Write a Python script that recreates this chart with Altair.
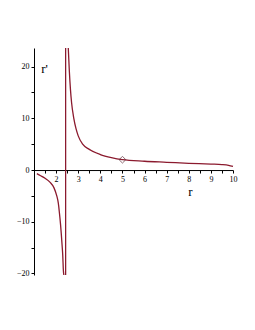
import altair as alt
import pandas as pd

# Left branch (r < asymptote)
left_r = [1.13, 1.3, 1.5, 1.73, 1.9, 2.03, 2.1, 2.15, 2.2, 2.23, 2.27, 2.3, 2.33, 2.35]
left_rp = [-0.7, -1.1, -1.6, -2.4, -3.4, -5.0, -6.4, -8.3, -10.5, -12.1, -14.5, -16.5, -19.5, -20.3]

# Right branch (r > asymptote)
right_r = [2.55, 2.6, 2.65, 2.7, 2.8, 2.9, 3.0, 3.2, 3.5, 4.0, 4.5, 5.0, 6.0, 7.0, 8.0, 9.0, 9.5, 9.8, 10.0]
right_rp = [23.6, 19.0, 15.5, 13.0, 10.0, 8.0, 6.6, 5.0, 4.0, 3.0, 2.4, 2.0, 1.7, 1.5, 1.3, 1.15, 1.05, 0.9, 0.7]

asymptote_r = [2.43]
marker_r = [5.0]
marker_rp = [2.0]

x_ticks = [1.5 + 0.5 * i for i in range(18)]
y_ticks = [-20, -15, -10, -5, 0, 5, 10, 15, 20]

x_domain = [1, 10]
y_domain = [-20.3, 23.6]

W, H = 199, 227
y0_px = H * (y_domain[1] - 0) / (y_domain[1] - y_domain[0])
x_offset = -(H - y0_px)

red = "#8b1a2e"
font = "Liberation Serif"

df = pd.concat([
    pd.DataFrame({"r": left_r, "rp": left_rp, "branch": "left"}),
    pd.DataFrame({"r": right_r, "rp": right_rp, "branch": "right"}),
])

xs = alt.Scale(domain=x_domain, nice=False, zero=False)
ys = alt.Scale(domain=y_domain, nice=False, zero=False)

xaxis = alt.Axis(
    values=x_ticks, orient="bottom", offset=x_offset, grid=False,
    labelExpr="floor(datum.value) == datum.value ? format(datum.value, 'd') : ''",
    labelOverlap=False, labelBound=False, labelFlush=False,
    tickSize=3, labelFont=font, labelFontSize=8, labelColor="#000",
    domainColor="#000", tickColor="#000", title="r",
    titleFont=font, titleFontSize=13, titleFontWeight="normal", titleColor="#000",
    titleX=156, titleY=25, titleBaseline="alphabetic", titleAlign="center",
    labelPadding=2,
)
yaxis = alt.Axis(
    values=y_ticks, orient="left", grid=False,
    labelExpr="datum.value % 10 == 0 ? datum.label : ''",
    labelOverlap=False,
    tickSize=3, labelFont=font, labelFontSize=8, labelColor="#000",
    domainColor="#000", tickColor="#000", title="r'",
    titleFont=font, titleFontSize=13, titleFontWeight="normal", titleColor="#000",
    titleAngle=0, titleX=10, titleY=20, titleBaseline="middle", titleAlign="center",
    labelPadding=2,
)

curves = alt.Chart(df).mark_line(color=red, strokeWidth=1.3, interpolate="monotone").encode(
    x=alt.X("r:Q", scale=xs, axis=xaxis),
    y=alt.Y("rp:Q", scale=ys, axis=yaxis),
    detail="branch:N",
)

rule = alt.Chart(pd.DataFrame({"r": asymptote_r})).mark_rule(color=red, strokeWidth=1.3).encode(
    x=alt.X("r:Q", scale=xs, axis=xaxis),
)

pt = alt.Chart(pd.DataFrame({"r": marker_r, "rp": marker_rp})).mark_point(
    shape="diamond", filled=False, color="#5a2a35", size=45, strokeWidth=1
).encode(
    x=alt.X("r:Q", scale=xs, axis=xaxis),
    y=alt.Y("rp:Q", scale=ys, axis=yaxis),
)

chart = alt.layer(curves, rule, pt).properties(
    width=W, height=H,
    autosize=alt.AutoSizeParams(type="none"),
    padding={"left": 26, "top": 40, "right": 14, "bottom": 40},
).configure_view(stroke=None)

chart.save("out.html", embed_options={"renderer": "svg", "actions": False})
